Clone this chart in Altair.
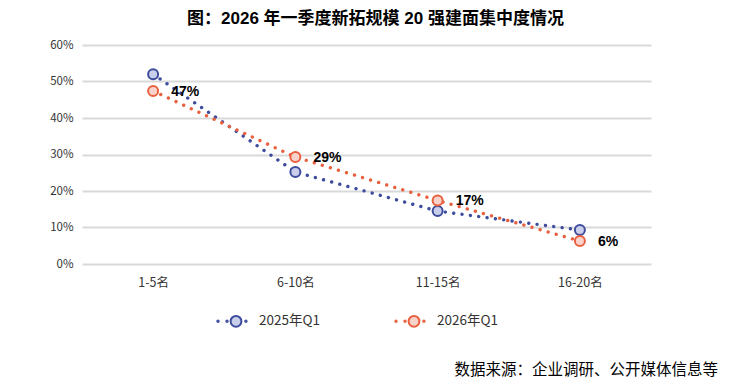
import altair as alt
import pandas as pd

categories = ["1-5名", "6-10名", "11-15名", "16-20名"]
series = ["2025年Q1", "2026年Q1"]
values_2025 = [0.52, 0.252, 0.145, 0.093]
values_2026 = [0.474, 0.293, 0.174, 0.063]
y_ticks = [0, 0.1, 0.2, 0.3, 0.4, 0.5, 0.6]
title_text = "图：2026 年一季度新拓规模 20 强建面集中度情况"
source_text = "数据来源：企业调研、公开媒体信息等"

rows = []
for c, v in zip(categories, values_2025):
    rows.append({"cat": c, "series": series[0], "value": v})
for c, v in zip(categories, values_2026):
    rows.append({"cat": c, "series": series[1], "value": v})
df = pd.DataFrame(rows)

stroke_colors = ["#3D4C9C", "#E9603F"]
fill_colors = ["#C9CFEA", "#F8D3CB"]

legend_path = (
    "M0.6,0A0.6,0.6,0,1,1,-0.6,0A0.6,0.6,0,1,1,0.6,0Z"
    "M-1.92,0A0.08,0.08,0,1,1,-2.08,0A0.08,0.08,0,1,1,-1.92,0Z"
    "M-0.92,0A0.08,0.08,0,1,1,-1.08,0A0.08,0.08,0,1,1,-0.92,0Z"
    "M1.18,0A0.08,0.08,0,1,1,1.02,0A0.08,0.08,0,1,1,1.18,0Z"
)

x_enc = alt.X("cat:N", sort=categories, title=None,
              scale=alt.Scale(paddingInner=0, paddingOuter=0.5),
              axis=alt.Axis(labelAngle=0, domain=False, ticks=False, grid=False,
                            labelPadding=12, labelFontSize=12.5,
                            labelFont="Noto Sans CJK SC", labelColor="#333333"))
y_enc = alt.Y("value:Q", title=None,
              scale=alt.Scale(domain=[0, 0.6], nice=False),
              axis=alt.Axis(values=y_ticks, format=".0%", domain=False, ticks=False,
                            gridColor="#D9D9D9", gridWidth=2, labelPadding=9,
                            labelFontSize=11.5, labelFont="Noto Sans CJK SC",
                            labelColor="#333333"))

stroke_scale = alt.Scale(domain=series, range=stroke_colors)
fill_scale = alt.Scale(domain=series, range=fill_colors)


def make_legend():
    return alt.Legend(title=None, orient="none", direction="horizontal",
                      legendX=144, legendY=266,
                      symbolType=legend_path, symbolSize=324,
                      symbolStrokeWidth=2, labelOffset=13,
                      columnPadding=71, labelFontSize=13.5,
                      labelFont="Noto Sans CJK SC", labelColor="#333333")


base = alt.Chart(df)

lines = base.mark_line(strokeWidth=3.4, strokeDash=[0.01, 8.4], strokeCap="round").encode(
    x=x_enc, y=y_enc,
    stroke=alt.Stroke("series:N", scale=stroke_scale, legend=make_legend()),
)

points = base.mark_point(filled=False, size=100, strokeWidth=2, opacity=1).encode(
    x=x_enc, y=y_enc,
    stroke=alt.Stroke("series:N", scale=stroke_scale, legend=make_legend()),
    fill=alt.Fill("series:N", scale=fill_scale, legend=make_legend()),
)

labels = base.transform_filter(alt.datum.series == series[1]).mark_text(
    align="left", baseline="middle", dx=18, dy=1, fontSize=14, fontWeight="bold",
    font="Liberation Sans", color="#000000"
).encode(
    x=x_enc, y=y_enc,
    text=alt.Text("value:Q", format=".0%"),
)

source = alt.Chart(pd.DataFrame({"t": [source_text]})).mark_text(
    align="right", baseline="middle", fontSize=15.5, font="Noto Sans CJK SC", color="#000000"
).encode(
    x=alt.value(636), y=alt.value(325), text="t:N"
)

chart = alt.layer(lines, points, labels, source).properties(
    width=569, height=219,
    title=alt.TitleParams(title_text, anchor="middle", fontSize=17, fontWeight="bold",
                          font="Liberation Sans, Noto Sans CJK SC", color="#000000",
                          offset=11, dx=9),
    autosize=alt.AutoSizeParams(type="none"),
    padding={"left": 74, "top": 37, "right": 79, "bottom": 115},
).configure_view(stroke=None)

chart.save("out.html", embed_options={"renderer": "svg", "actions": False})
